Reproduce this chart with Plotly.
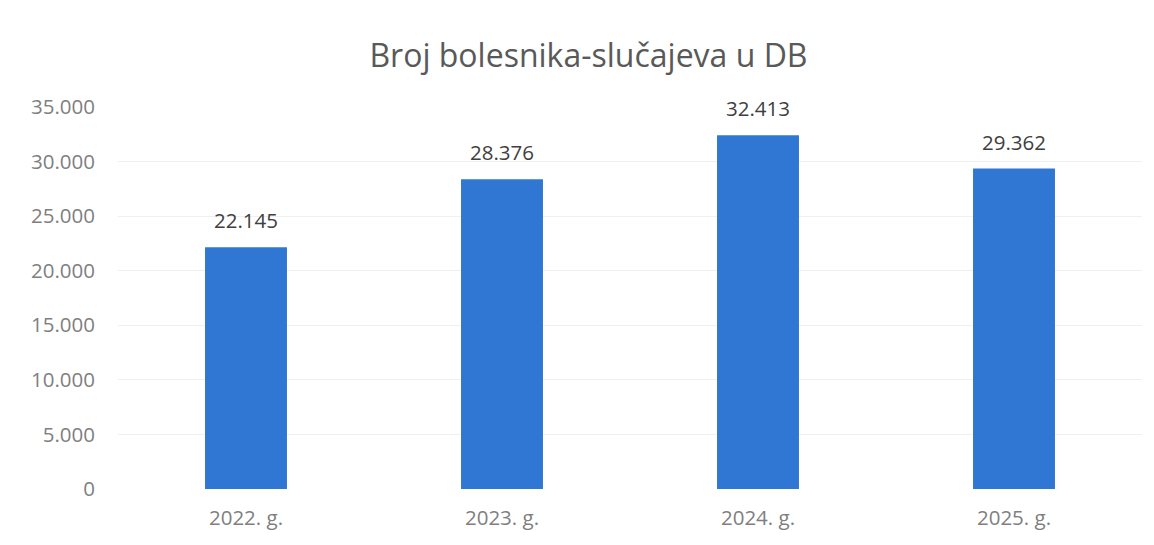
import plotly.graph_objects as go

categories = ["2022. g.", "2023. g.", "2024. g.", "2025. g."]
values = [22145, 28376, 32413, 29362]
value_labels = ["22.145", "28.376", "32.413", "29.362"]
tick_vals = [0, 5000, 10000, 15000, 20000, 25000, 30000, 35000]
tick_text = ["0", "5.000", "10.000", "15.000", "20.000", "25.000", "30.000", "35.000"]

FONT = "Open Sans, Lato, sans-serif"

fig = go.Figure(go.Bar(
    x=categories, y=values,
    marker=dict(color="#2F77D3", line=dict(width=0)),
    width=0.32, hoverinfo="x+y",
))

for c, v, t in zip(categories, values, value_labels):
    fig.add_annotation(x=c, y=v, text=t, showarrow=False, yanchor="bottom",
                       yshift=11, font=dict(size=20.5, color="#404040", family=FONT))

fig.update_layout(
    width=1154, height=545,
    margin=dict(l=110, r=20, t=99, b=64),
    paper_bgcolor="white", plot_bgcolor="white",
    title=dict(text="Broj bolesnika-slučajeva u DB", x=0.503, xanchor="center",
               y=0.913, yanchor="middle",
               font=dict(size=32, color="#595959", family=FONT)),
    showlegend=False,
    xaxis=dict(showline=False, showgrid=False, ticks="", ticklabelstandoff=14,
               tickfont=dict(size=20.5, color="#7f7f7f", family=FONT)),
    yaxis=dict(range=[0, 35000], tickvals=tick_vals, ticktext=tick_text,
               showgrid=True, gridcolor="#f0f0f0", gridwidth=1,
               zeroline=False, showline=False, ticks="", ticklabelstandoff=22,
               tickfont=dict(size=20.5, color="#7f7f7f", family=FONT)),
)

fig.write_html("out.html")
